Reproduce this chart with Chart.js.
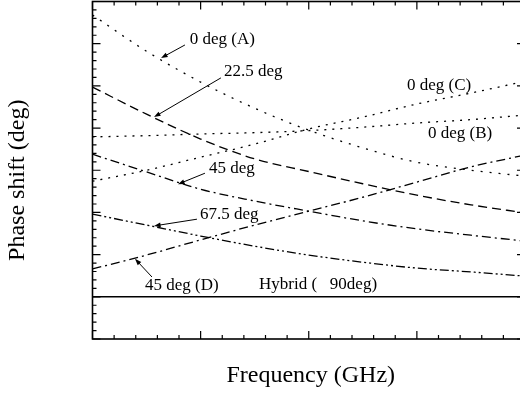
<!DOCTYPE html>
<html>
<head>
<meta charset="utf-8">
<script src="https://cdn.jsdelivr.net/npm/chart.js@4.4.1/dist/chart.umd.min.js"></script>
<style>
  html, body { margin: 0; padding: 0; background: #fff; overflow: hidden; }
  #wrap { width: 540px; height: 396px; }
</style>
</head>
<body>
<div id="wrap"><canvas id="chart" width="540" height="396"></canvas></div>
<script>
// --- DATA (frequency axis has no numbers in the figure, so units are tick steps) ---
const freq    = [0, 0.5, 1, 1.5, 2, 2.5, 3, 3.5, 4];
const deg0A   = [7.68, 6.82, 6.09, 5.47, 4.95, 4.53, 4.19, 4.00, 3.86];
const deg0B   = [4.79, 4.82, 4.86, 4.89, 4.94, 5.02, 5.12, 5.20, 5.31];
const deg0C   = [3.74, 4.00, 4.31, 4.62, 4.98, 5.26, 5.57, 5.83, 6.11];
const deg22_5 = [5.97, 5.33, 4.74, 4.27, 3.97, 3.68, 3.41, 3.18, 2.99];
const deg45   = [4.38, 3.96, 3.55, 3.27, 3.03, 2.80, 2.61, 2.46, 2.32];
const deg67_5 = [2.96, 2.70, 2.44, 2.20, 1.99, 1.82, 1.68, 1.59, 1.49];
const deg45D  = [1.66, 1.99, 2.35, 2.70, 3.03, 3.36, 3.72, 4.08, 4.36];
const hybrid  = [1, 1, 1, 1, 1, 1, 1, 1, 1];

const xMin = 0, xMax = 4, yMin = 0, yMax = 8;

// labels: text, anchor (x, y) and optional arrow from -> to, all in data units
const notes = [
  { text: "0 deg (A)",  at: [0.90, 7.09], from: [0.855, 6.97], to: [0.634, 6.66] },
  { text: "22.5 deg",   at: [1.216, 6.35], from: [1.188, 6.19], to: [0.569, 5.26] },
  { text: "0 deg (C)",  at: [2.909, 6.00] },
  { text: "0 deg (B)",  at: [3.103, 4.88] },
  { text: "45 deg",     at: [1.078, 4.05], from: [1.040, 3.93], to: [0.791, 3.67] },
  { text: "67.5 deg",   at: [0.994, 2.96], from: [0.966, 2.84], to: [0.569, 2.68] },
  { text: "45 deg (D)", at: [0.486, 1.26], from: [0.550, 1.47], to: [0.393, 1.90] },
  { text: "Hybrid (   90deg)", at: [1.540, 1.28] }
];

const SERIF = "'Liberation Serif', 'DejaVu Serif', serif";

const toPts = ys => freq.map((f, i) => ({ x: f, y: ys[i] }));

const line = (label, ys, dash, width) => ({
  label,
  data: toPts(ys),
  borderColor: '#000',
  borderWidth: width || 1.3,
  borderDash: dash,
  pointRadius: 0,
  fill: false,
  cubicInterpolationMode: 'monotone'
});

// --- frame, inward ticks, labels, arrows, axis titles ---
const decor = {
  id: 'decor',
  afterDatasetsDraw(chart) {
    const { ctx, chartArea: a, scales: { x, y } } = chart;
    ctx.save();
    ctx.strokeStyle = '#000';
    ctx.fillStyle = '#000';

    ctx.lineWidth = 1.6;
    ctx.strokeRect(a.left, a.top, a.right - a.left, a.bottom - a.top);

    ctx.lineWidth = 1.2;
    ctx.beginPath();
    for (let i = 0; i <= 20; i++) {
      const px = x.getPixelForValue(xMin + i * 0.2);
      const len = i % 5 === 0 ? 8 : 4;
      ctx.moveTo(px, a.bottom); ctx.lineTo(px, a.bottom - len);
      ctx.moveTo(px, a.top); ctx.lineTo(px, a.top + len);
    }
    for (let i = 0; i <= 40; i++) {
      const py = y.getPixelForValue(yMin + i * 0.2);
      const len = i % 5 === 0 ? 8 : 4;
      ctx.moveTo(a.left, py); ctx.lineTo(a.left + len, py);
      ctx.moveTo(a.right, py); ctx.lineTo(a.right - len, py);
    }
    ctx.stroke();

    // labels + arrows
    ctx.font = `17px ${SERIF}`;
    ctx.textAlign = 'left';
    ctx.textBaseline = 'middle';
    notes.forEach(n => {
      ctx.fillText(n.text, x.getPixelForValue(n.at[0]), y.getPixelForValue(n.at[1]));
      if (!n.from) return;
      const x1 = x.getPixelForValue(n.from[0]), y1 = y.getPixelForValue(n.from[1]);
      const x2 = x.getPixelForValue(n.to[0]),   y2 = y.getPixelForValue(n.to[1]);
      const ang = Math.atan2(y2 - y1, x2 - x1);
      ctx.lineWidth = 1;
      ctx.beginPath();
      ctx.moveTo(x1, y1);
      ctx.lineTo(x2 - 5 * Math.cos(ang), y2 - 5 * Math.sin(ang));
      ctx.stroke();
      ctx.beginPath();
      ctx.moveTo(x2, y2);
      ctx.lineTo(x2 - 7 * Math.cos(ang - 0.35), y2 - 7 * Math.sin(ang - 0.35));
      ctx.lineTo(x2 - 7 * Math.cos(ang + 0.35), y2 - 7 * Math.sin(ang + 0.35));
      ctx.closePath();
      ctx.fill();
    });

    // axis titles
    ctx.font = `24px ${SERIF}`;
    ctx.textAlign = 'center';
    ctx.fillText('Frequency (GHz)', (a.left + a.right) / 2 + 2, a.bottom + 37);
    ctx.translate(18, (a.top + a.bottom) / 2 + 10);
    ctx.rotate(-Math.PI / 2);
    ctx.fillText('Phase shift (deg)', 0, 0);
    ctx.restore();
  }
};

new Chart(document.getElementById('chart'), {
  type: 'line',
  data: {
    datasets: [
      line('0 deg (A)', deg0A, [2, 7]),
      line('0 deg (B)', deg0B, [2, 6]),
      line('0 deg (C)', deg0C, [2, 6]),
      line('22.5 deg', deg22_5, [9, 5]),
      line('45 deg', deg45, [9, 4, 2, 4]),
      line('67.5 deg', deg67_5, [9, 3, 2, 3, 2, 3]),
      line('45 deg (D)', deg45D, [9, 4, 2, 4]),
      line('Hybrid (90deg)', hybrid, [], 1.6)
    ]
  },
  options: {
    responsive: false,
    animation: false,
    devicePixelRatio: 1,
    layout: { padding: { left: 92.5, top: 1.5, right: 15, bottom: 57 } },
    plugins: { legend: { display: false }, tooltip: { enabled: false } },
    scales: {
      x: { type: 'linear', min: xMin, max: xMax, display: false },
      y: { type: 'linear', min: yMin, max: yMax, display: false }
    }
  },
  plugins: [decor]
});
</script>
</body>
</html>
